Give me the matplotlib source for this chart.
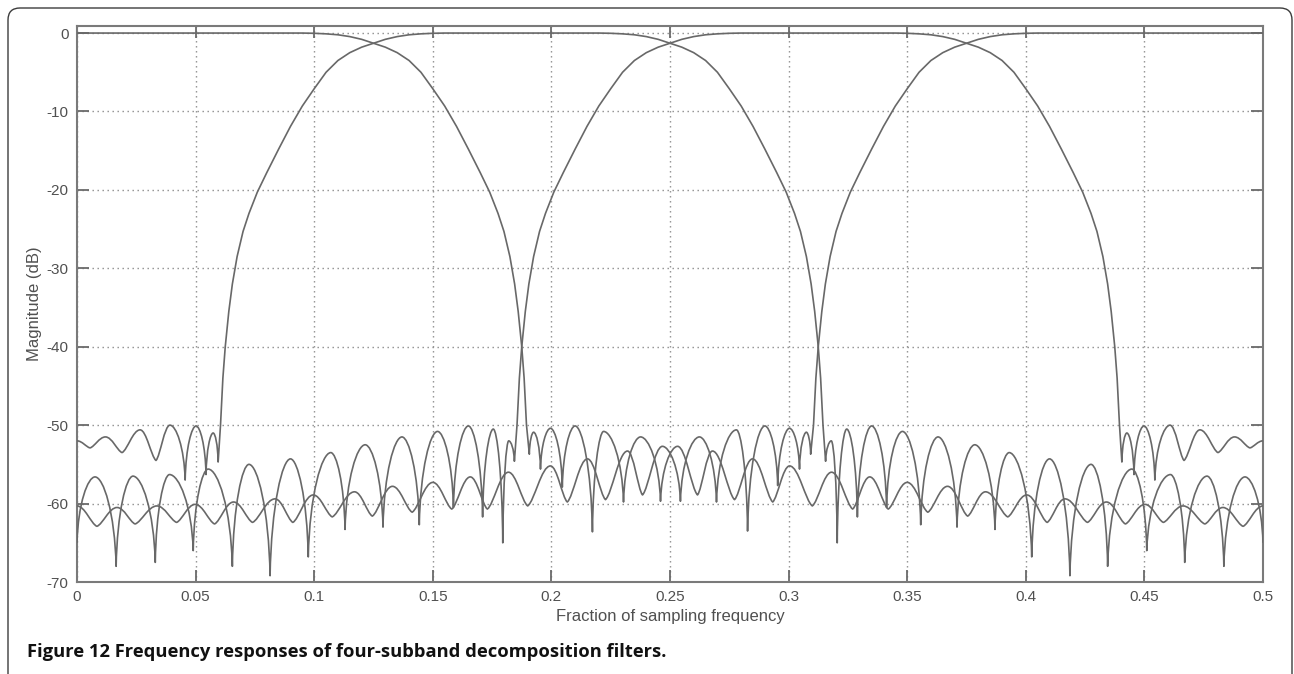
import matplotlib
matplotlib.use("Agg")
import matplotlib.pyplot as plt
from matplotlib.path import Path
from matplotlib.patches import PathPatch, FancyBboxPatch

# ---- data ---------------------------------------------------------------
# kind per point: p = plain point on a main lobe, s = rounded peak,
# v = shallow minimum, n = sharp null
f1_freq = [0.0, 0.095, 0.100, 0.105, 0.110, 0.115, 0.120, 0.125, 0.130, 0.135,
           0.140, 0.145, 0.150, 0.155, 0.160, 0.165, 0.170, 0.174, 0.1775,
           0.180, 0.1825, 0.1845, 0.186, 0.1875, 0.1885, 0.1895,
           0.1907, 0.1925, 0.1954, 0.1996, 0.2046, 0.210, 0.2173, 0.222, 0.2304,
           0.2376, 0.246, 0.2532,
           0.2616, 0.2679, 0.2772, 0.2848, 0.2933, 0.3004, 0.310, 0.3181, 0.327,
           0.3342, 0.342, 0.350, 0.3587, 0.367, 0.3755, 0.383, 0.3924, 0.4004,
           0.409, 0.4165, 0.426, 0.434, 0.442, 0.4502, 0.458, 0.4663, 0.4755,
           0.4831, 0.4916, 0.5]
f1_db = [0, 0, -0.03, -0.1, -0.22, -0.45, -0.8, -1.3, -1.8, -2.5,
         -3.5, -5.0, -7.1, -9.3, -11.9, -14.8, -17.8, -20.3, -23,
         -25.3, -28.5, -32, -35.5, -40, -44, -50,
         -53.7, -50.9, -55.6, -50.4, -57.9, -50.1, -63.6, -50.8, -59.8,
         -51.5, -59.7, -52.7,
         -58.9, -53.3, -59.5, -54.3, -59.8, -55.2, -60.3, -56.0, -60.7,
         -56.6, -60.7, -57.3, -61.1, -57.8, -61.6, -58.5, -61.7, -58.9,
         -62.4, -59.4, -62.4, -59.8, -62.6, -60.1, -62.4, -60.3, -62.6,
         -60.5, -62.9, -60.3]
f1_kind = "p" * 26 + "nsnsnsnsnsns" + "vs" * 15

f2_freq = [0.0, 0.0055, 0.012, 0.019, 0.0266, 0.0333, 0.0392, 0.0456, 0.0502,
           0.0544, 0.0574, 0.0595,
           0.0605, 0.0615, 0.0625, 0.064, 0.0655, 0.0675, 0.070, 0.0725, 0.076,
           0.080, 0.085, 0.090, 0.095, 0.100, 0.105, 0.110, 0.115, 0.120,
           0.125, 0.130, 0.135, 0.140, 0.145, 0.150, 0.155,
           0.220, 0.225, 0.230, 0.235, 0.240, 0.245, 0.250, 0.255, 0.260,
           0.265, 0.270, 0.275, 0.280, 0.285, 0.290, 0.295, 0.299, 0.3025,
           0.305, 0.3075, 0.3095, 0.311, 0.3125, 0.3135, 0.3145,
           0.3156, 0.318, 0.3205, 0.3245, 0.329, 0.335, 0.3413, 0.348, 0.3557,
           0.363, 0.371, 0.3785, 0.387, 0.393, 0.4025, 0.410, 0.4186, 0.4275,
           0.4345, 0.4447, 0.451, 0.461, 0.467, 0.4764, 0.4835, 0.4924, 0.5]
f2_db = [-52.0, -52.9, -51.5, -53.5, -50.6, -54.5, -50.0, -57.0, -50.1,
         -56.3, -51.0, -54.7,
         -50, -44, -40, -35.5, -32, -28.5, -25.3, -23, -20.3,
         -17.8, -14.8, -11.9, -9.3, -7.1, -5.0, -3.5, -2.5, -1.8,
         -1.3, -0.8, -0.45, -0.22, -0.1, -0.03, 0,
         0, -0.03, -0.1, -0.22, -0.45, -0.8, -1.3, -1.8, -2.5,
         -3.5, -5.0, -7.1, -9.3, -11.9, -14.8, -17.8, -20.3, -23,
         -25.3, -28.5, -32, -35.5, -40, -44, -50,
         -54.6, -52.0, -65.0, -50.5, -61.7, -50.1, -60.5, -50.8, -62.7,
         -51.5, -63.0, -52.5, -63.3, -53.5, -66.8, -54.3, -69.2, -55.0,
         -68.0, -55.6, -66.0, -56.3, -67.5, -56.5, -68.0, -56.6, -65.0]
f2_kind = "svsvsvsnsnsn" + "p" * 50 + "ns" * 13 + "n"

f3_freq = [0.0, 0.0076, 0.0165, 0.0236, 0.033, 0.039, 0.049, 0.0553, 0.0655,
           0.0725, 0.0814, 0.090, 0.0975, 0.107, 0.113, 0.1215, 0.129, 0.137,
           0.1443, 0.152, 0.1587, 0.165, 0.171, 0.1755, 0.1795, 0.182, 0.1844,
           0.1855, 0.1865, 0.1875, 0.189, 0.1905, 0.1925, 0.195, 0.1975, 0.201,
           0.205, 0.210, 0.215, 0.220, 0.225, 0.230, 0.235, 0.240, 0.245,
           0.250, 0.255, 0.260, 0.265, 0.270, 0.275, 0.280,
           0.345, 0.350, 0.355, 0.360, 0.365, 0.370, 0.375, 0.380, 0.385,
           0.390, 0.395, 0.400, 0.405, 0.410, 0.415, 0.420, 0.424, 0.4275,
           0.430, 0.4325, 0.4345, 0.436, 0.4375, 0.4385, 0.4395,
           0.4405, 0.4426, 0.4456, 0.4498, 0.4544, 0.4608, 0.4667, 0.4734,
           0.481, 0.488, 0.4945, 0.5]
f3_db = [-65.0, -56.6, -68.0, -56.5, -67.5, -56.3, -66.0, -55.6, -68.0,
         -55.0, -69.2, -54.3, -66.8, -53.5, -63.3, -52.5, -63.0, -51.5,
         -62.7, -50.8, -60.5, -50.1, -61.7, -50.5, -65.0, -52.0, -54.6,
         -50, -44, -40, -35.5, -32, -28.5, -25.3, -23, -20.3,
         -17.8, -14.8, -11.9, -9.3, -7.1, -5.0, -3.5, -2.5, -1.8,
         -1.3, -0.8, -0.45, -0.22, -0.1, -0.03, 0,
         0, -0.03, -0.1, -0.22, -0.45, -0.8, -1.3, -1.8, -2.5,
         -3.5, -5.0, -7.1, -9.3, -11.9, -14.8, -17.8, -20.3, -23,
         -25.3, -28.5, -32, -35.5, -40, -44, -50,
         -54.7, -51.0, -56.3, -50.1, -57.0, -50.0, -54.5, -50.6,
         -53.5, -51.5, -52.9, -52.0]
f3_kind = "ns" * 13 + "n" + "p" * 50 + "nsnsnsvsvsvs"

f4_freq = [0.0, 0.0084, 0.0169, 0.0245, 0.0337, 0.042, 0.0498, 0.058, 0.066,
           0.074, 0.0835, 0.091, 0.0996, 0.1076, 0.117, 0.1245, 0.133, 0.1413,
           0.150, 0.158, 0.1658, 0.173, 0.1819, 0.190, 0.1996, 0.2067, 0.2152,
           0.2228, 0.2321, 0.2384,
           0.2468, 0.2544, 0.2624, 0.2696, 0.278, 0.2827, 0.290, 0.2954,
           0.3004, 0.3046, 0.3075, 0.3093,
           0.3105, 0.3115, 0.3125, 0.314, 0.3155, 0.3175, 0.320, 0.3225, 0.326,
           0.330, 0.335, 0.340, 0.345, 0.350, 0.355, 0.360, 0.365, 0.370,
           0.375, 0.380, 0.385, 0.390, 0.395, 0.400, 0.405, 0.5]
f4_db = [-60.3, -62.9, -60.5, -62.6, -60.3, -62.4, -60.1, -62.6, -59.8,
         -62.4, -59.4, -62.4, -58.9, -61.7, -58.5, -61.6, -57.8, -61.1,
         -57.3, -60.7, -56.6, -60.7, -56.0, -60.3, -55.2, -59.8, -54.3,
         -59.5, -53.3, -58.9,
         -52.7, -59.7, -51.5, -59.8, -50.6, -63.5, -50.1, -57.7,
         -50.4, -55.6, -50.9, -53.7,
         -50, -44, -40, -35.5, -32, -28.5, -25.3, -23, -20.3,
         -17.8, -14.8, -11.9, -9.3, -7.1, -5.0, -3.5, -2.5, -1.8,
         -1.3, -0.8, -0.45, -0.22, -0.1, -0.03, 0, 0]
f4_kind = "sv" * 15 + "snsnsnsnsnsn" + "p" * 26

x_ticks = [0, 0.05, 0.1, 0.15, 0.2, 0.25, 0.3, 0.35, 0.4, 0.45, 0.5]
x_labels = ["0", "0.05", "0.1", "0.15", "0.2", "0.25", "0.3", "0.35", "0.4", "0.45", "0.5"]
y_ticks = [-70, -60, -50, -40, -30, -20, -10, 0]
y_labels = ["-70", "-60", "-50", "-40", "-30", "-20", "-10", "0"]

LINE = "#686868"


def handle(x, y, kind, dx, dy):
    # control point leaving a knot, depending on its shape
    if kind == "s":
        return (x + 0.40 * dx, y)
    if kind == "v":
        return (x + 0.30 * dx, y + 0.12 * dy)
    return (x + 0.06 * dx, y + 0.60 * dy)


def response_path(freq, db, kind):
    verts = [(freq[0], db[0])]
    codes = [Path.MOVETO]
    for i in range(1, len(freq)):
        x0, y0, k0 = freq[i - 1], db[i - 1], kind[i - 1]
        x1, y1, k1 = freq[i], db[i], kind[i]
        if k0 == "p" or k1 == "p":
            verts.append((x1, y1))
            codes.append(Path.LINETO)
            continue
        dx, dy = x1 - x0, y1 - y0
        verts += [handle(x0, y0, k0, dx, dy), handle(x1, y1, k1, -dx, -dy), (x1, y1)]
        codes += [Path.CURVE4] * 3
    return Path(verts, codes)


plt.rcParams["font.family"] = ["Liberation Sans", "DejaVu Sans"]
plt.rcParams["axes.unicode_minus"] = False

fig = plt.figure(figsize=(12.94, 6.74), dpi=100)
ax = fig.add_axes([77 / 1294, 92 / 674, 1186 / 1294, 556 / 674])

for freq, db, kind in [(f1_freq, f1_db, f1_kind), (f2_freq, f2_db, f2_kind),
                       (f3_freq, f3_db, f3_kind), (f4_freq, f4_db, f4_kind)]:
    ax.add_patch(PathPatch(response_path(freq, db, kind), fill=False,
                           edgecolor=LINE, lw=1.2, joinstyle="round", zorder=3))

ax.set_xlim(0, 0.5)
ax.set_ylim(-70, 0.9)
ax.set_xticks(x_ticks)
ax.set_xticklabels(x_labels)
ax.set_yticks(y_ticks)
ax.set_yticklabels(y_labels)
ax.grid(True, linestyle=(0, (1, 2.6)), color="#8c8c8c", lw=1.0)
ax.tick_params(direction="in", length=8.5, width=1.3, top=True, right=True,
               color="#6a6a6a", labelcolor="#505050", labelsize=11, pad=6)
for sp in ax.spines.values():
    sp.set_color("#7a7a7a")
    sp.set_linewidth(1.5)

fig.text(35 / 1294, 1 - 304 / 674, "Magnitude (dB)", rotation=90, ha="center",
         va="center", fontsize=12, color="#505050")
fig.text(670 / 1294, 1 - 617 / 674, "Fraction of sampling frequency", ha="center",
         va="center", fontsize=12, color="#505050")
fig.text(27 / 1294, 1 - 652 / 674,
         "Figure 12 Frequency responses of four-subband decomposition filters.",
         ha="left", va="center", fontsize=13.2, fontweight="bold",
         family=["Open Sans", "DejaVu Sans"], color="#111111")

frame = FancyBboxPatch((0.08, -0.5), 12.84, 7.16, boxstyle="round,pad=0,rounding_size=0.12",
                       transform=fig.dpi_scale_trans, fill=False, ec="#3c3c3c", lw=1.0)
fig.add_artist(frame)

fig.savefig("out.png", dpi=100)
